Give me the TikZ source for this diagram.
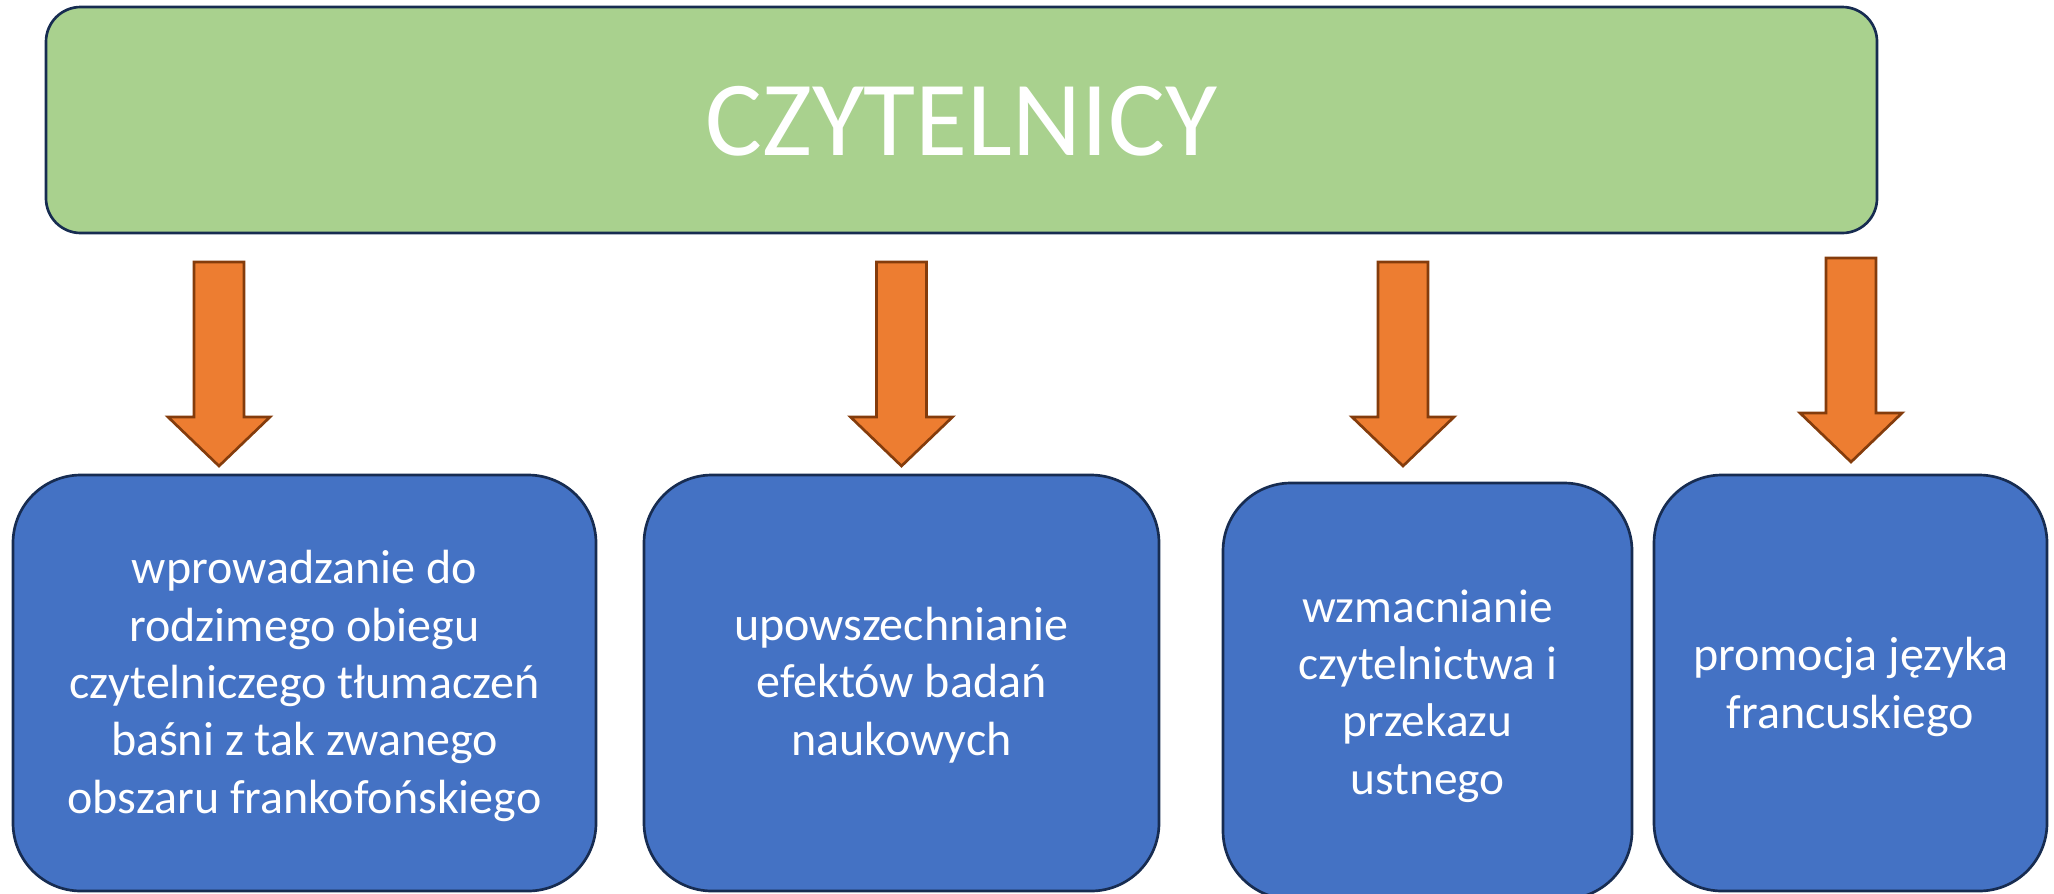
\documentclass[tikz,border=0pt]{standalone}
\usepackage{fontspec}
\setmainfont{Carlito}

\definecolor{greenfill}{HTML}{A9D18E}
\definecolor{bluefill}{HTML}{4472C4}
\definecolor{orangefill}{HTML}{ED7D31}
\definecolor{navyline}{HTML}{172C51}
\definecolor{brownline}{HTML}{843C0C}

\tikzset{every picture/.style={line width=0.75pt}}
\tikzset{
  topbox/.style={draw=navyline, fill=greenfill, line width=2pt, rounded corners=26pt},
  goalbox/.style={draw=navyline, fill=bluefill, line width=2pt, rounded corners=51pt},
  downarrow/.style={draw=brownline, fill=orangefill, line width=2pt, line join=miter},
  toptext/.style={text=white, inner sep=0.75pt, font=\fontsize{80}{96}\selectfont},
  goaltext/.style={text=white, align=center, inner sep=0.75pt, font=\fontsize{#1}{43}\selectfont},
  goaltext/.default=36,
}

\begin{document}
\begin{tikzpicture}[x=0.75pt,y=0.75pt,yscale=-1,xscale=1]
\useasboundingbox (0,0) rectangle (2054,893);

%Shape: Rounded Rect (top)
\draw[topbox] (46,7) rectangle (1877,233);
% Text Node
\node[toptext] (readers) at (961.5,121) {CZYTELNICY};

%Shapes: Down Arrows
\foreach \cx/\ty in {219/262, 901.5/262, 1403/262, 1851/258}
  \draw[downarrow] (\cx-25,\ty) -- (\cx+25,\ty) -- (\cx+25,\ty+155) -- (\cx+51,\ty+155)
    -- (\cx,\ty+204) -- (\cx-51,\ty+155) -- (\cx-25,\ty+155) -- cycle;

%Shapes: Rounded Rects (goals)
\draw[goalbox] (13,475) rectangle (596,891);
\draw[goalbox] (644,475) rectangle (1159,891);
\draw[goalbox] (1223,483) rectangle (1632,899);
\draw[goalbox] (1654,475) rectangle (2047,891);

% Text Node
\node[goaltext] (goalA) at (304.5,686) {wprowadzanie do\\rodzimego obiegu\\czytelniczego tłumaczeń\\baśni z tak zwanego\\obszaru frankofońskiego};
% Text Node
\node[goaltext] (goalB) at (901.5,685) {upowszechnianie\\efektów badań\\naukowych};
% Text Node
\node[goaltext=35.5] (goalC) at (1427.5,696) {wzmacnianie\\czytelnictwa i\\przekazu\\ustnego};
% Text Node
\node[goaltext] (goalD) at (1850.5,687) {promocja języka\\francuskiego};

\end{tikzpicture}
\end{document}
